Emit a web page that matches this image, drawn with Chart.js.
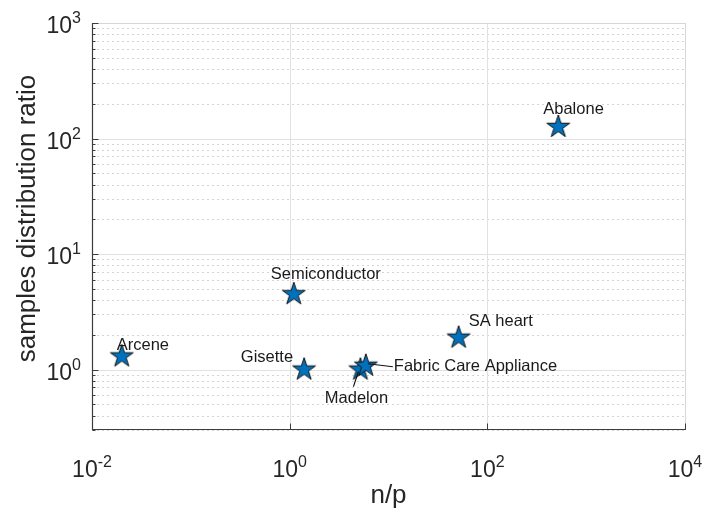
<!DOCTYPE html>
<html>
<head>
<meta charset="utf-8">
<script src="https://cdn.jsdelivr.net/npm/chart.js@4"></script>
<style>
  html, body { margin: 0; padding: 0; background: #ffffff; }
  #wrap { width: 704px; height: 512px; }
</style>
</head>
<body>
<div id="wrap"><canvas id="c" width="704" height="512"></canvas></div>
<script>
// Data sets and their ratios
const datasetNames = ['Arcene', 'Gisette', 'Semiconductor', 'Madelon', 'Fabric Care Appliance', 'SA heart', 'Abalone'];
const nOverP      = [0.02, 1.4, 1.1, 5.2, 5.9, 51.3, 522];
const sampleRatio = [1.3, 1.0, 4.5, 1.0, 1.08, 1.89, 126];

// Axis decades that carry a tick label
const xTickExponents = [-2, 0, 2, 4];
const yTickExponents = [0, 1, 2, 3];

// Label placement relative to each marker: [dx, dy, align, leader line]
const labelPlacement = {
  'Arcene':                [-5, -11, 'left', false],
  'Gisette':               [-11, -12, 'right', false],
  'Semiconductor':         [-23, -20, 'left', false],
  'Madelon':               [-4, 29, 'center', true],
  'Fabric Care Appliance': [28, 1, 'left', true],
  'SA heart':              [10, -16, 'left', false],
  'Abalone':               [-15, -17, 'left', false]
};

const FONT = '"Liberation Sans", Arial, Helvetica, sans-serif';
const INK = '#262626';

// Filled five-point star used as the marker
function makeStar(R, fill, stroke) {
  const size = Math.ceil(R * 2 + 4);
  const cv = document.createElement('canvas');
  cv.width = size; cv.height = size;
  const g = cv.getContext('2d');
  const c = size / 2, r = R * 0.382;
  g.beginPath();
  for (let i = 0; i < 10; i++) {
    const ang = -Math.PI / 2 + i * Math.PI / 5;
    const rad = i % 2 === 0 ? R : r;
    const px = c + rad * Math.cos(ang), py = c + rad * Math.sin(ang);
    if (i === 0) g.moveTo(px, py); else g.lineTo(px, py);
  }
  g.closePath();
  g.fillStyle = fill; g.fill();
  g.lineWidth = 1; g.strokeStyle = stroke; g.stroke();
  return cv;
}
const starMarker = makeStar(12, '#0072BD', '#111111');

const points = nOverP.map((x, i) => ({ x, y: sampleRatio[i], name: datasetNames[i] }));

// Grid, box, ticks and tick labels in the log-log style
const axesPlugin = {
  id: 'logAxes',
  beforeDatasetsDraw(chart) {
    const { ctx, chartArea: a, scales: { x, y } } = chart;
    ctx.save();
    // minor y grid (dotted)
    ctx.strokeStyle = '#d4d4d4';
    ctx.lineWidth = 1;
    ctx.setLineDash([2, 3]);
    for (let e = -1; e < 3; e++) {
      for (let m = 2; m <= 9; m++) {
        const v = m * Math.pow(10, e);
        if (v < y.min || v > y.max) continue;
        const py = Math.round(y.getPixelForValue(v)) + 0.5;
        ctx.beginPath(); ctx.moveTo(a.left, py); ctx.lineTo(a.right, py); ctx.stroke();
      }
    }
    ctx.setLineDash([]);
    // major grid
    ctx.strokeStyle = '#e1e1e1';
    yTickExponents.forEach(e => {
      const py = Math.round(y.getPixelForValue(Math.pow(10, e))) + 0.5;
      ctx.beginPath(); ctx.moveTo(a.left, py); ctx.lineTo(a.right, py); ctx.stroke();
    });
    xTickExponents.forEach(e => {
      const px = Math.round(x.getPixelForValue(Math.pow(10, e))) + 0.5;
      ctx.beginPath(); ctx.moveTo(px, a.top); ctx.lineTo(px, a.bottom); ctx.stroke();
    });
    // light box edges (top, right)
    ctx.strokeStyle = '#d6d6d6';
    ctx.beginPath();
    ctx.moveTo(a.left, Math.round(a.top) + 0.5); ctx.lineTo(Math.round(a.right) + 0.5, Math.round(a.top) + 0.5);
    ctx.lineTo(Math.round(a.right) + 0.5, a.bottom);
    ctx.stroke();
    ctx.restore();
  },
  afterDraw(chart) {
    const { ctx, chartArea: a, scales: { x, y } } = chart;
    ctx.save();
    const L = Math.round(a.left) + 0.5, B = Math.round(a.bottom) - 0.5;
    ctx.strokeStyle = '#3c3c3c';
    ctx.lineWidth = 1.2;
    ctx.beginPath(); ctx.moveTo(L, a.top); ctx.lineTo(L, B); ctx.lineTo(a.right + 1, B); ctx.stroke();
    // y ticks (major + minor, inward)
    ctx.lineWidth = 1;
    for (let e = -1; e <= 3; e++) {
      for (let m = 1; m <= 9; m++) {
        const v = m * Math.pow(10, e);
        if (v < y.min || v > y.max) continue;
        const py = Math.round(y.getPixelForValue(v)) + 0.5;
        const len = m === 1 ? 6 : 3;
        ctx.beginPath(); ctx.moveTo(L, py); ctx.lineTo(L + len, py); ctx.stroke();
      }
    }
    // x ticks
    xTickExponents.forEach(e => {
      const px = Math.round(x.getPixelForValue(Math.pow(10, e))) + 0.5;
      ctx.beginPath(); ctx.moveTo(px, B); ctx.lineTo(px, B - 6); ctx.stroke();
    });
    // tick labels 10^n
    ctx.fillStyle = INK;
    ctx.textBaseline = 'alphabetic';
    const baseFont = '23px ' + FONT, expFont = '16px ' + FONT;
    yTickExponents.forEach(e => {
      const py = y.getPixelForValue(Math.pow(10, e));
      const ex = String(e);
      ctx.font = expFont; const we = ctx.measureText(ex).width;
      ctx.font = baseFont; const wb = ctx.measureText('10').width;
      const right = a.left - 11;
      ctx.textAlign = 'left';
      ctx.fillText('10', right - we - wb, py + 10);
      ctx.font = expFont;
      ctx.fillText(ex, right - we, py);
    });
    xTickExponents.forEach(e => {
      const px = x.getPixelForValue(Math.pow(10, e));
      const ex = String(e);
      ctx.font = expFont; const we = ctx.measureText(ex).width;
      ctx.font = baseFont; const wb = ctx.measureText('10').width;
      const start = px - (wb + we) / 2;
      ctx.textAlign = 'left';
      ctx.fillText('10', start, a.bottom + 47);
      ctx.font = expFont;
      ctx.fillText(ex, start + wb, a.bottom + 37);
    });
    // axis titles
    ctx.font = '26px ' + FONT;
    ctx.textAlign = 'center';
    ctx.textBaseline = 'middle';
    ctx.fillText('n/p', (a.left + a.right) / 2, 496);
    ctx.save();
    ctx.translate(28, (a.top + a.bottom) / 2 - 8);
    ctx.rotate(-Math.PI / 2);
    ctx.fillText('samples distribution ratio', 0, 0);
    ctx.restore();
    ctx.restore();
  }
};

// Data-set names next to each marker
const labelPlugin = {
  id: 'pointNames',
  afterDatasetsDraw(chart) {
    const { ctx } = chart;
    const meta = chart.getDatasetMeta(0);
    ctx.save();
    ctx.font = '16.5px ' + FONT;
    ctx.fillStyle = '#1a1a1a';
    ctx.textBaseline = 'middle';
    meta.data.forEach((el, i) => {
      const name = points[i].name;
      const [dx, dy, align, leader] = labelPlacement[name];
      const tx = el.x + dx, ty = el.y + dy;
      ctx.textAlign = align;
      ctx.fillText(name, tx, ty);
      if (leader) {
        ctx.strokeStyle = '#111111';
        ctx.lineWidth = 1.2;
        ctx.beginPath();
        if (align === 'left') {
          ctx.moveTo(tx - 1, ty); ctx.lineTo(el.x + 2, el.y - 2);
        } else {
          ctx.moveTo(tx - 3, ty - 12); ctx.lineTo(el.x - 2, el.y + 2);
        }
        ctx.stroke();
      }
    });
    ctx.restore();
  }
};

new Chart(document.getElementById('c'), {
  type: 'scatter',
  data: {
    datasets: [{
      data: points,
      pointStyle: starMarker,
      pointRadius: 12,
      pointHoverRadius: 12
    }]
  },
  options: {
    responsive: false,
    animation: false,
    events: [],
    layout: { padding: { left: 0, right: 19, top: 23, bottom: 0 } },
    plugins: { legend: { display: false }, tooltip: { enabled: false } },
    scales: {
      x: {
        type: 'logarithmic', min: 0.01, max: 10000,
        grid: { display: false }, border: { display: false },
        ticks: { display: false },
        afterFit(scale) { scale.height = 82; }
      },
      y: {
        type: 'logarithmic', min: 0.3, max: 1000,
        grid: { display: false }, border: { display: false },
        ticks: { display: false },
        afterFit(scale) { scale.width = 92; }
      }
    }
  },
  plugins: [axesPlugin, labelPlugin]
});
</script>
</body>
</html>
